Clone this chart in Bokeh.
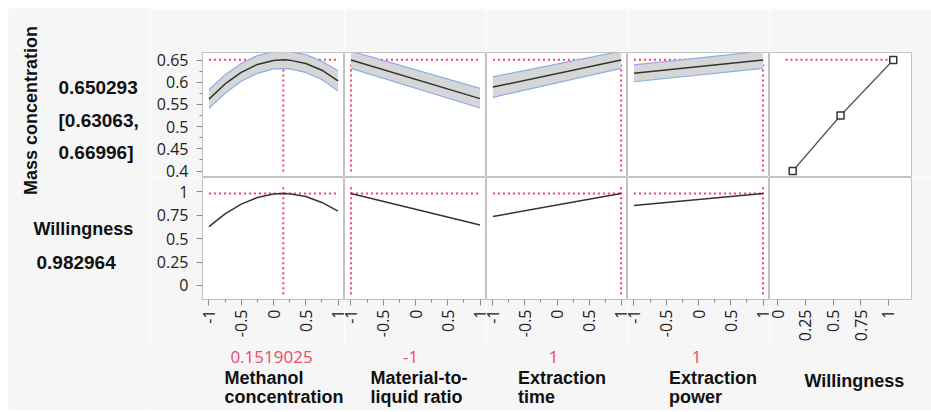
import math
from bokeh.plotting import figure
from bokeh.layouts import gridplot, row, column
from bokeh.models import Range1d, LinearAxis, FixedTicker, Label, NumeralTickFormatter
from bokeh.embed import file_html
from bokeh.resources import INLINE

# ---------------- values ----------------
response_name = "Mass concentration"
desirability_name = "Willingness"
predicted_text = ["0.650293", "[0.63063,", "0.66996]"]
desirability_text = "0.982964"
predicted_mass = 0.650293
predicted_desirability = 0.982964

factor_line1 = ["Methanol", "Material-to-", "Extraction", "Extraction"]
factor_line2 = ["concentration", "liquid ratio", "time", "power"]
current_settings = [0.1519025, -1, 1, 1]
current_labels = ["0.1519025", "-1", "1", "1"]

# Methanol concentration profile (curved)
methanol_x = [-1, -0.75, -0.5, -0.25, 0, 0.1519025, 0.25, 0.5, 0.75, 1]
methanol_mass = [0.562, 0.596, 0.622, 0.640, 0.649, 0.6503, 0.6497, 0.642, 0.627, 0.603]
methanol_mass_hi = [0.583, 0.617, 0.642, 0.660, 0.669, 0.670, 0.669, 0.662, 0.647, 0.626]
methanol_mass_lo = [0.541, 0.575, 0.602, 0.620, 0.630, 0.6306, 0.630, 0.622, 0.606, 0.580]
methanol_will = [0.628, 0.765, 0.869, 0.940, 0.977, 0.983, 0.980, 0.951, 0.887, 0.795]

# straight profiles
line_x = [-1, 1]
ratio_mass = [0.650, 0.563]
ratio_mass_hi = [0.670, 0.586]
ratio_mass_lo = [0.631, 0.542]
ratio_will = [0.983, 0.646]
time_mass = [0.589, 0.650]
time_mass_hi = [0.612, 0.670]
time_mass_lo = [0.566, 0.631]
time_will = [0.736, 0.983]
power_mass = [0.620, 0.650]
power_mass_hi = [0.639, 0.670]
power_mass_lo = [0.601, 0.631]
power_will = [0.854, 0.983]

profiles_x = [methanol_x, line_x, line_x, line_x]
profiles_mass = [methanol_mass, ratio_mass, time_mass, power_mass]
profiles_hi = [methanol_mass_hi, ratio_mass_hi, time_mass_hi, power_mass_hi]
profiles_lo = [methanol_mass_lo, ratio_mass_lo, time_mass_lo, power_mass_lo]
profiles_will = [methanol_will, ratio_will, time_will, power_will]

# desirability function (Willingness vs mass concentration)
des_will = [0.135, 0.568, 1.045]
des_mass = [0.400, 0.525, 0.650]

factor_ticks = [-1, -0.5, 0, 0.5, 1]
factor_tick_labels = ["-1", "-0.5", "0", "0.5", "1"]
factor_minor = [-0.75, -0.25, 0.25, 0.75]
mass_ticks = [0.4, 0.45, 0.5, 0.55, 0.6, 0.65]
mass_tick_labels = ["0.4", "0.45", "0.5", "0.55", "0.6", "0.65"]
mass_minor = [0.425, 0.475, 0.525, 0.575, 0.625]
will_ticks = [0, 0.25, 0.5, 0.75, 1]
will_tick_labels = ["0", "0.25", "0.5", "0.75", "1"]

# crosshair extents (visual)
hline_span = [-1, 1]
des_hline_span = [0.07, 1.045]
vline_span_top = [0.399, 0.648]
vline_span_bot = [-0.094, 1.07]

# ---------------- styling / layout ----------------
BG = "#f6f6f6"
FRAME_LINE = "#c2c2c2"
TICK = "#8a8a8a"
RED = "#f7405e"
RED_TXT = "#f04a66"
BAND = "#d6d6d6"
BAND_EDGE = "#8eaaf0"
CURVE = "#333333"
TICK_FONT = "Open Sans"
BOLD_FONT = "Liberation Sans"

EDGE = 8                      # white strip at top / left (like the reference)
col_w = [142, 142, 141, 142, 142]
ROW_H = 125
LEFT_AX = 52
TOP_B = 44
BOT_AX = 42
RIGHT_B = 20
LEFT_W = 150
GRID_W = LEFT_AX + sum(col_w) + RIGHT_B
TOTAL_W = LEFT_W + GRID_W
TOTAL_H = 410
GRID_H = TOP_B + 2 * ROW_H + BOT_AX
BOTTOM_H = TOTAL_H - EDGE - GRID_H

xr_factor = Range1d(-1.1, 1.1)
xr_des = Range1d(-0.075, 1.21)
yr_mass = Range1d(0.3854, 0.6669)
yr_will = Range1d(-0.151, 1.154)


def make_panel(xr, yr, col, r):
    ml = LEFT_AX if col == 0 else 0
    mr = RIGHT_B if col == 4 else 0
    mt = TOP_B if r == 0 else 0
    mb = BOT_AX if r == 1 else 0
    p = figure(width=col_w[col] + ml + mr, height=ROW_H + mt + mb,
               x_range=xr, y_range=yr, output_backend="svg",
               toolbar_location=None, x_axis_location=None, y_axis_location=None,
               min_border_left=ml, min_border_right=mr,
               min_border_top=mt, min_border_bottom=mb)
    p.grid.visible = False
    p.background_fill_color = "white"
    p.border_fill_color = BG
    p.outline_line_color = FRAME_LINE
    p.outline_line_width = 1
    return p


def make_axis(ticks, labels, minor, vertical):
    ax = LinearAxis(ticker=FixedTicker(ticks=ticks, minor_ticks=minor),
                    formatter=NumeralTickFormatter(format="0.[00]"))
    ax.major_label_overrides = dict(zip(ticks, labels))
    ax.axis_line_color = None
    ax.major_tick_line_color = TICK
    ax.minor_tick_line_color = TICK
    ax.major_tick_out = 6
    ax.major_tick_in = 0
    ax.minor_tick_out = 3
    ax.minor_tick_in = 0
    ax.major_label_text_font = TICK_FONT
    ax.major_label_text_font_size = "16px"
    ax.major_label_text_color = "#222222"
    if vertical:
        ax.major_label_orientation = math.pi / 2
        ax.major_label_standoff = 4
    else:
        ax.major_label_standoff = 8
    return ax


dot = dict(line_color=RED, line_width=2, line_dash="2 3")

top_row, bot_row = [], []
for i in range(4):
    # mass concentration profile
    p = make_panel(xr_factor, yr_mass, i, 0)
    cx = current_settings[i]
    p.line(hline_span, [predicted_mass, predicted_mass], **dot)
    p.line([cx, cx], vline_span_top, **dot)
    p.varea(x=profiles_x[i], y1=profiles_lo[i], y2=profiles_hi[i], fill_color=BAND)
    p.line(profiles_x[i], profiles_hi[i], line_color=BAND_EDGE, line_width=1.2)
    p.line(profiles_x[i], profiles_lo[i], line_color=BAND_EDGE, line_width=1.2)
    p.line(profiles_x[i], profiles_mass[i], line_color=CURVE, line_width=1.5)
    if i == 0:
        p.add_layout(make_axis(mass_ticks, mass_tick_labels, mass_minor, False), "left")
    top_row.append(p)

    # willingness profile
    q = make_panel(xr_factor, yr_will, i, 1)
    q.line(hline_span, [predicted_desirability, predicted_desirability], **dot)
    q.line([cx, cx], vline_span_bot, **dot)
    q.line(profiles_x[i], profiles_will[i], line_color=CURVE, line_width=1.5)
    if i == 0:
        q.add_layout(make_axis(will_ticks, will_tick_labels, [], False), "left")
    q.add_layout(make_axis(factor_ticks, factor_tick_labels, factor_minor, True), "below")
    bot_row.append(q)

# desirability column
p5 = make_panel(xr_des, yr_mass, 4, 0)
p5.line(des_hline_span, [predicted_mass, predicted_mass], **dot)
p5.line(des_will, des_mass, line_color="#555555", line_width=1.3)
p5.scatter(des_will, des_mass, marker="square", size=7, fill_color="white",
           line_color="#333333", line_width=1.5)
top_row.append(p5)

q5 = make_panel(xr_des, yr_will, 4, 1)
q5.add_layout(make_axis(will_ticks, will_tick_labels, [], True), "below")
bot_row.append(q5)

grid = gridplot([top_row, bot_row], toolbar_location=None)


def text_fig(w, h, xr, yr, ml=0, mt=0, edge_color=BG):
    f = figure(width=w, height=h, x_range=xr, y_range=yr, output_backend="svg", title=None,
               toolbar_location=None, x_axis_location=None, y_axis_location=None,
               min_border=0, min_border_left=ml, min_border_top=mt)
    f.grid.visible = False
    f.background_fill_color = BG
    f.border_fill_color = edge_color
    f.outline_line_color = None
    return f


# left text panel (picture pixel coordinates, y downwards)
L = text_fig(LEFT_W, TOTAL_H, Range1d(EDGE, LEFT_W), Range1d(TOTAL_H, EDGE),
             ml=EDGE, mt=EDGE, edge_color="white")
bold = dict(text_font=BOLD_FONT, text_font_style="bold", text_color="#111111",
            text_baseline="middle")
L.add_layout(Label(x=30, y=110, text=response_name, angle=math.pi / 2,
                   text_align="center", text_font_size="18px", **bold))
for txt, yc in zip(predicted_text, [87, 119.7, 152]):
    L.add_layout(Label(x=58, y=yc, text=txt, text_align="left", text_font_size="19px", **bold))
L.add_layout(Label(x=33, y=228.2, text=desirability_name, text_align="left",
                   text_font_size="18px", **bold))
L.add_layout(Label(x=36, y=261.7, text=desirability_text, text_align="left",
                   text_font_size="19px", **bold))

# thin white strip above the panels
strip = text_fig(GRID_W, EDGE, Range1d(0, 1), Range1d(0, 1), edge_color="white")
strip.background_fill_color = "white"

# bottom text panel (picture pixel coordinates, y downwards)
B = text_fig(GRID_W, BOTTOM_H, Range1d(LEFT_W, TOTAL_W), Range1d(TOTAL_H, TOTAL_H - BOTTOM_H))
red_x = [271, 410, 553, 696]
name_x = [224, 370, 517.5, 668.5]
for i in range(4):
    B.add_layout(Label(x=red_x[i], y=356.5, text=current_labels[i], text_align="center",
                       text_baseline="middle", text_font=TICK_FONT,
                       text_font_size="17px", text_color=RED_TXT))
    B.add_layout(Label(x=name_x[i], y=377.8, text=factor_line1[i], text_align="left",
                       text_font_size="18px", **bold))
    B.add_layout(Label(x=name_x[i], y=396, text=factor_line2[i], text_align="left",
                       text_font_size="18px", **bold))
B.add_layout(Label(x=804, y=380.5, text=desirability_name, text_align="left",
                   text_font_size="18px", **bold))

layout = row(L, column(strip, grid, B))

open("out.html", "w").write(file_html(layout, INLINE))
